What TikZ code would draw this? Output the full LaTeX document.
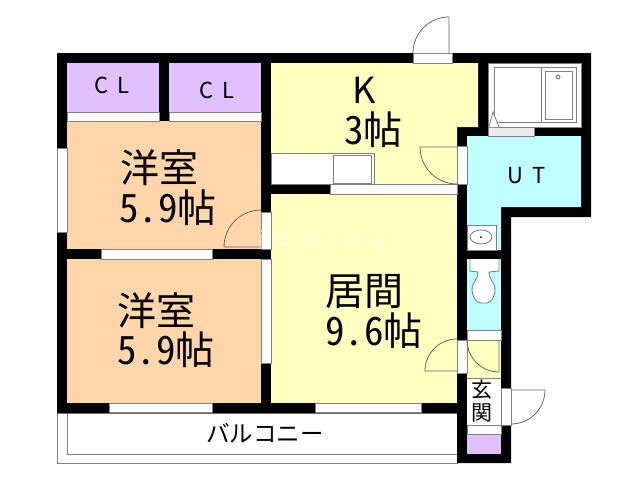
\documentclass[tikz,border=0pt]{standalone}
\usepackage{fontspec}
\usepackage{color}
\newfontfamily\jfont[RawFeature=+hwid]{Noto Sans CJK JP}
\newfontfamily\lfont{Noto Sans CJK JP}
\newfontfamily\wfont{DejaVu Sans}
\definecolor{roomorange}{RGB}{255,214,170}
\definecolor{roomyellow}{RGB}{255,255,192}
\definecolor{roompurple}{RGB}{224,192,255}
\definecolor{roomcyan}{RGB}{192,255,255}
\definecolor{linegray}{RGB}{128,128,128}
\tikzstyle{wall} = [fill=black,draw=none]
\tikzstyle{opening} = [fill=white,draw=linegray,line width=0.8pt]
\tikzstyle{fixture} = [draw=linegray,line width=0.9pt]
\tikzstyle{door} = [draw=linegray!80!black,line width=0.8pt]
\tikzstyle{biglabel} = [font=\jfont\fontsize{39}{39}\selectfont,inner sep=0pt]
\tikzstyle{smalllabel} = [font=\lfont\fontsize{22}{22}\selectfont,inner sep=0pt]

\begin{document}
\begin{tikzpicture}[x=1pt,y=-1pt]
	\useasboundingbox (0,0) rectangle (640,480);

	% balcony
	\draw[fixture,fill=white] (57,413) rectangle (457,463);
	\draw[fixture] (67,413) -- (67,454) -- (457,454);

	% walls
	\fill[wall] (57,53) -- (591,53) -- (591,217) -- (511,217) -- (511,463) -- (457,463) -- (457,413) -- (57,413) -- cycle;

	% rooms
	\fill[roompurple] (67,63) rectangle (159,112);
	\fill[roompurple] (169,63) rectangle (261,112);
	\fill[roomorange] (67,121) rectangle (261,249);
	\fill[roomorange] (67,259) rectangle (261,403);
	\fill[roomyellow] (271,63) -- (478,63) -- (478,127) -- (457,127) -- (457,184) -- (271,184) -- cycle;
	\fill[roomyellow] (271,194) rectangle (457,403);
	\fill[roomcyan] (467,136) -- (581,136) -- (581,207) -- (501,207) -- (501,250) -- (467,250) -- cycle;
	\fill[roomcyan] (467,259) rectangle (501,330);
	\fill[roomyellow] (467,340) rectangle (501,378);
	\fill[white] (467,378) rectangle (501,425);
	\fill[roompurple] (467,434) rectangle (501,454);
	\fill[white] (488,63) rectangle (581,127);

	% closet shelves
	\draw[opening] (67,112) rectangle (159,121);
	\draw[opening] (169,112) rectangle (261,121);
	\draw[opening] (467,330) rectangle (501,340);
	\draw[opening] (467,425) rectangle (501,434);
	\draw[fixture] (467,378) -- (501,378);

	% windows and openings
	\draw[opening] (57.5,148) rectangle (67,232);
	\draw[opening] (101,249) rectangle (212,259);
	\draw[opening] (109,403) rectangle (212,412.5);
	\draw[opening] (315,403) rectangle (421,412.5);
	\draw[opening] (261,212) rectangle (271,249);
	\draw[opening] (261,259) rectangle (271,363);
	\draw[opening] (413,53) rectangle (452,63);
	\draw[opening] (330,184) rectangle (457,194);
	\draw[opening] (457,146) rectangle (467,184);
	\draw[opening] (457,340) rectangle (467,373);
	\draw[opening] (501,388) rectangle (511,425);
	\draw[opening,fill=black!8] (488,127) rectangle (534,136);

	% kitchen
	\draw[fixture,fill=white] (271,153) rectangle (374,184);
	\draw[fixture] (333,155) rectangle (371,183);

	% bath
	\draw[fixture] (488,63) rectangle (581,127);
	\draw[fixture] (494,67) rectangle (576,122);
	\draw[fixture] (541,67) -- (541,122);
	\draw[fixture] (545,71) rectangle (572,119);
	\draw[fixture] (558,77) circle (2);
	\draw[fixture,fill=white] (489,127) -- (493,112) -- (499,127);

	% wash basin
	\draw[fixture,fill=white] (467,225) rectangle (496,250);
	\draw[fixture] (481,237) ellipse (11 and 7);
	\fill (481,237) circle (1);

	% toilet
	\draw[fixture,fill=white] (470,259) -- (470,271) -- (478,272) .. controls (478,280) and (472,282) .. (472,290) .. controls (472,296) and (476,303) .. (481,303) -- (487,303) .. controls (491,303) and (495,296) .. (495,290) .. controls (495,282) and (489,280) .. (489,272) -- (499,271) -- (499,259);

	% doors
	\draw[door] (449,53) -- (449,17) arc (270:180:36);
	\draw[door] (261,247) -- (224,247) arc (180:270:37);
	\draw[door] (457,147) -- (420,147) arc (180:90:37);
	\draw[door] (457,371) -- (425,371) arc (180:270:32);
	\draw[door] (499,340) -- (499,372) arc (90:180:32);
	\draw[door] (511,390) -- (545,390) arc (0:90:34);

	% labels
	\node[smalllabel] (CLa) at (112,85) {C\hspace{9pt}L};
	\node[smalllabel] (CLb) at (217,90) {C\hspace{9pt}L};
	\node[biglabel] (WAa) at (159,168) {洋室};
	\node[biglabel] (WAsa) at (168,208) {5.9帖};
	\node[biglabel] (WAb) at (156,311) {洋室};
	\node[biglabel] (WAsb) at (166,350) {5.9帖};
	\node[biglabel,font=\lfont\fontsize{36}{36}\selectfont] (K) at (364,90) {K};
	\node[biglabel] (Ks) at (373.5,130) {3帖};
	\node[biglabel] (LI) at (364.5,292) {居間};
	\node[biglabel] (LIs) at (374,331) {9.6帖};
	\node[smalllabel] (UT) at (526.5,176) {U\hspace{9pt}T};
	\node[smalllabel,font=\jfont\fontsize{23.5}{23.5}\selectfont] (BA) at (265,433) {バルコニー};
	\node[smalllabel,font=\jfont\fontsize{21}{21}\selectfont] (GEa) at (482,390) {玄};
	\node[smalllabel,font=\jfont\fontsize{21}{21}\selectfont] (GEb) at (482,413) {関};

	% watermark
	\node[inner sep=0pt,text=white,text opacity=0.45,font=\wfont\fontsize{20}{20}\selectfont\addfontfeature{LetterSpace=67}] (MARK) at (323,240) {jogjog};
\end{tikzpicture}
\end{document}
